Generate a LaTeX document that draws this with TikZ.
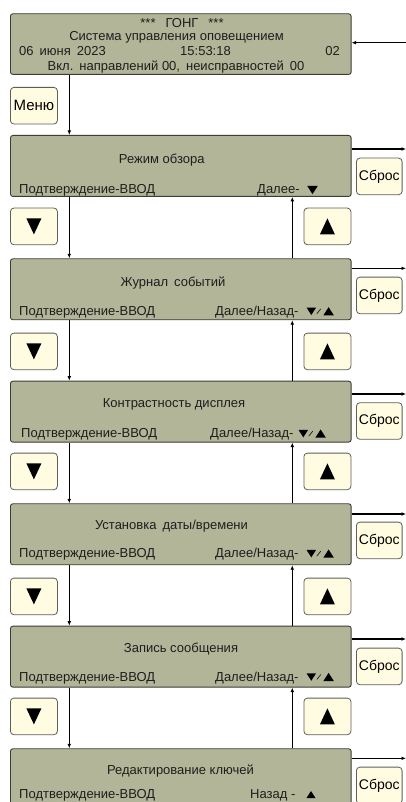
\documentclass[tikz,border=0pt]{standalone}
\usepackage{fontspec}
\setmainfont{Liberation Sans}
\usetikzlibrary{arrows.meta}
\definecolor{scr}{RGB}{179,181,152}
\definecolor{scrline}{RGB}{60,60,55}
\definecolor{btn}{RGB}{255,252,225}
\definecolor{btnline}{RGB}{95,95,90}
\definecolor{ink}{RGB}{30,30,30}
\tikzset{
  screen/.style={draw=scrline, fill=scr, line width=0.9pt, rounded corners=2.5pt,
    minimum width=340.7pt, minimum height=61pt, inner sep=0pt, anchor=north west},
  topscreen/.style={screen, minimum height=60.7pt},
  btnbox/.style={draw=btnline, fill=btn, line width=0.8pt, rounded corners=3.5pt,
    minimum width=47pt, minimum height=36.6pt, inner sep=0pt, anchor=north west,
    font=\fontsize{15}{17}\selectfont, text=black},
  sbros/.style={btnbox, minimum width=45.7pt, font=\fontsize{14}{16}\selectfont},
  txt/.style={font=\fontsize{13}{15}\selectfont, text=ink, inner sep=0pt},
  conn/.style={line width=1.5pt, black, -{Latex[length=4.5pt,width=3.8pt]}},
  pics/dtri/.style={code={\fill[black] (-#1,-0.78*#1) -- (#1,-0.78*#1) -- (0,0.78*#1) -- cycle;}},
  pics/utri/.style={code={\fill[black] (-#1,0.78*#1) -- (#1,0.78*#1) -- (0,-0.78*#1) -- cycle;}},
  pics/bigd/.style={code={\fill[black] (-7.5,-8) -- (7.5,-8) -- (0,8) -- cycle;}},
  pics/bigu/.style={code={\fill[black] (-7.5,8) -- (7.5,8) -- (0,-8) -- cycle;}},
}
\begin{document}
\begin{tikzpicture}[x=1pt,y=-1pt]
\clip (0,0) rectangle (406,802);
\fill[white] (0,0) rectangle (406,802);

% ---------- top screen ----------
\node[topscreen] (s0) at (10,13.3) {};
\node[txt, anchor=base] (s0a) at (182,27.8) {***\hspace{10pt}ГОНГ\hspace{10pt}***};
\node[txt, anchor=base] (s0b) at (176.5,41) {Система управления оповещением};
\node[txt, anchor=base west] (s0c) at (19,56) {06\hspace{6pt}июня\hspace{6pt}2023};
\node[txt, anchor=base west] (s0d) at (180,56) {15:53:18};
\node[txt, anchor=base east] (s0e) at (340,56) {02};
\node[txt, anchor=base] (s0f) at (176,70.5) {Вкл.\hspace{6pt}направлений 00,\hspace{6pt}неисправностей\hspace{6pt}00};
\coordinate (in0) at (406,42.7);
\draw[conn] (in0) -- (s0.east |- in0);

\node[btnbox] (menu) at (10,87) {Меню};

% ---------- menu screens ----------
\node[screen] (s1) at (10,135) {};
\node[screen] (s2) at (10,258.3) {};
\node[screen] (s3) at (10,380.7) {};
\node[screen] (s4) at (10,503.3) {};
\node[screen] (s5) at (10,625.7) {};
\node[screen] (s6) at (10,748.3) {};

% titles
\node[txt, anchor=base] (t1) at (161.7,163.5) {Режим обзора};
\node[txt, anchor=base] (t2) at (173,286.8) {Журнал\hspace{6pt}событий};
\node[txt, anchor=base] (t3) at (174,407.8) {Контрастность дисплея};
\node[txt, anchor=base] (t4) at (171.5,529.5) {Установка\hspace{6pt}даты/времени};
\node[txt, anchor=base] (t5) at (181,652.8) {Запись сообщения};
\node[txt, anchor=base] (t6) at (180.5,774.5) {Редактирование ключей};

% bottom lines, left
\node[txt, anchor=base west] (l1) at (19,194) {Подтверждение-ВВОД};
\node[txt, anchor=base west] (l2) at (19,315.3) {Подтверждение-ВВОД};
\node[txt, anchor=base west] (l3) at (21,437.6) {Подтверждение-ВВОД};
\node[txt, anchor=base west] (l4) at (19,557.6) {Подтверждение-ВВОД};
\node[txt, anchor=base west] (l5) at (19,681) {Подтверждение-ВВОД};
\node[txt, anchor=base west] (l6) at (19,798.5) {Подтверждение-ВВОД};

% bottom lines, right
\node[txt, anchor=base west] (r1) at (257,194) {Далее-};
\pic at (312.5,190) {dtri=5.3};
\node[txt, anchor=base west] (r2) at (215,315.3) {Далее/Назад-};
\node[txt, anchor=base west] (r3) at (210,437.6) {Далее/Назад-};
\node[txt, anchor=base west] (r4) at (215,557.6) {Далее/Назад-};
\node[txt, anchor=base west] (r5) at (215,681) {Далее/Назад-};
\node[txt, anchor=base west] (r6) at (250,798.5) {Назад -};
\pic at (311,794.5) {utri=4.5};
\foreach \yy/\xx in {315.3/0, 437.6/-8, 557.6/0, 681/0} {
  \pic at (311.3+\xx,\yy-4) {dtri=4.8};
  \draw[ink, line width=0.7pt] (316.8+\xx,\yy-1.5) -- (320.8+\xx,\yy-6.5);
  \pic at (328.6+\xx,\yy-4) {utri=5.3};
}

% reset buttons
\node[sbros] (sb1) at (356,157.7) {Сброс};
\node[sbros] (sb2) at (356,276.7) {Сброс};
\node[sbros] (sb3) at (356,402.3) {Сброс};
\node[sbros] (sb4) at (356,521.7) {Сброс};
\node[sbros] (sb5) at (356,647.7) {Сброс};
\node[sbros] (sb6) at (356,766.7) {Сброс};

% down / up buttons
\foreach \i/\yy in {1/207.7, 2/332.7, 3/452.7, 4/577.7, 5/697.7} {
  \node[btnbox] (dn\i) at (10,\yy) {};
  \node[btnbox] (up\i) at (303.5,\yy) {};
  \pic at (dn\i.center) {bigd};
  \pic at (up\i.center) {bigu};
}

% connectors
\draw[conn] ([xshift=59.3pt]s0.south west) -- ([xshift=59.3pt]s1.north west);
\foreach \a/\b in {1/2, 2/3, 3/4, 4/5, 5/6} {
  \draw[conn] ([xshift=59.3pt]s\a.south west) -- ([xshift=59.3pt]s\b.north west);
  \draw[conn] ([xshift=282.3pt]s\b.north west) -- ([xshift=282.3pt]s\a.south west);
}
\foreach \i/\yy in {1/149, 2/268.3, 3/394, 4/514, 5/639, 6/758.3} {
  \coordinate (o\i) at (406,\yy);
  \draw[conn] (s\i.east |- o\i) -- (o\i);
}
\end{tikzpicture}
\end{document}
